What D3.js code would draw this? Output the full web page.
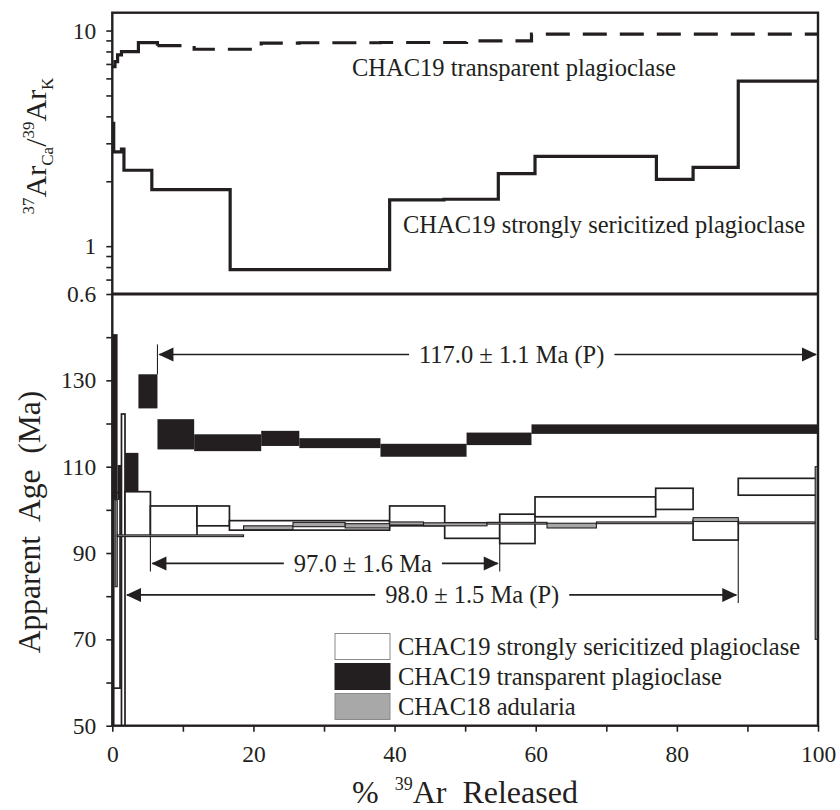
<!DOCTYPE html>
<html>
<head>
<meta charset="utf-8">
<script src="https://cdn.jsdelivr.net/npm/d3@7"></script>
<style>
  html, body { margin: 0; padding: 0; background: #fff; }
  svg { display: block; font-family: "Liberation Serif", "Times New Roman", serif; }
  .pre { white-space: pre; }
</style>
</head>
<body>
<svg id="chart" width="840" height="810"></svg>
<script>
// ---------------- DATA ----------------
// Top panel: 37ArCa/39ArK step spectra (x = cumulative % 39Ar, value = ratio)
const transpCaKX = [0, 0.38, 0.75, 1.3, 3.7, 6.4, 11.6, 21.1, 26.5, 38.0, 50.2, 59.4, 100];
const transpCaKV = [6.8, 7.17, 7.71, 7.99, 8.79, 8.51, 8.19, 8.74, 8.78, 8.8, 8.96, 9.62];
const serCaKX = [0, 0.2, 1.3, 1.65, 5.6, 12.0, 16.7, 39.3, 47.0, 54.7, 59.9, 77.1, 82.3, 88.7, 100];
const serCaKV = [3.71, 2.74, 2.82, 2.25, 1.83, 1.83, 0.778, 1.64, 1.65, 2.17, 2.61, 2.04, 2.32, 5.83];

// Bottom panel: age spectra, each step [x0 %, x1 %, age low Ma, age high Ma]
const sericitizedSteps = [
  [0, 0.2, 20, 105], [0.2, 1.1, 58.7, 104], [1.3, 1.8, 20, 122.2], [1.8, 5.4, 94.0, 104.2],
  [5.4, 12.0, 94.0, 100.9], [12.0, 16.6, 96.3, 100.9], [16.6, 39.3, 95.3, 97.5],
  [39.3, 47.1, 96.3, 100.9], [47.1, 54.9, 93.4, 97.0], [54.9, 59.9, 92.2, 99.0],
  [59.9, 77.0, 98.4, 103.0], [77.0, 82.3, 100.1, 105.0], [82.3, 88.7, 93.0, 97.6],
  [88.7, 100, 103.4, 107.3]
];
const transparentSteps = [
  [0, 0.75, 102.3, 140.7], [0.75, 1.3, 102.3, 110.4], [1.8, 3.7, 104.2, 113.2],
  [3.7, 6.4, 123.5, 131.4], [6.4, 11.6, 114.0, 121.0], [11.6, 21.1, 113.6, 117.5],
  [21.1, 26.5, 114.8, 118.3], [26.5, 38.0, 114.3, 116.6], [38.0, 50.2, 112.3, 115.3],
  [50.2, 59.4, 115.0, 117.9], [59.4, 100, 117.6, 119.8]
];
const adulariaSteps = [
  [0.4, 0.7, 82.2, 102.3], [0.7, 18.6, 93.8, 94.2], [18.6, 25.6, 95.4, 96.3],
  [25.6, 33.0, 96.1, 97.1], [33.0, 39.3, 95.8, 96.8], [39.3, 44.1, 96.5, 97.2],
  [44.1, 53.1, 96.3, 97.0], [53.1, 61.6, 96.7, 97.1], [61.6, 68.6, 95.8, 96.9],
  [68.6, 82.3, 96.8, 97.2], [82.3, 88.7, 97.3, 98.2], [88.7, 99.6, 96.8, 97.2],
  [99.6, 100, 70, 110]
];

// Plateau ages
const plateauLabels = ["117.0 \u00b1 1.1 Ma (P)", "97.0 \u00b1 1.6 Ma", "98.0 \u00b1 1.5 Ma (P)"];
const plateauStart = [6.4, 5.4, 1.8];
const plateauEnd = [100, 54.9, 88.7];

// Axis ticks
const xTicks = [0, 10, 20, 30, 40, 50, 60, 70, 80, 90, 100];
const xTickLabels = [0, 20, 40, 60, 80, 100];
const ageTicks = [50, 60, 70, 80, 90, 100, 110, 120, 130, 140];
const ageTickLabels = [50, 70, 90, 110, 130];
const ratioTicks = [0.6, 0.7, 0.8, 0.9, 1, 2, 3, 4, 5, 6, 7, 8, 9, 10];
const ratioTickLabels = [0.6, 1, 10];

// Legend
const legendLabels = ["CHAC19 strongly sericitized plagioclase", "CHAC19 transparent plagioclase", "CHAC18 adularia"];

// ---------------- LAYOUT ----------------
const L = 112.3, R = 818, T = 12.7, M = 294, B = 725.7;
const INK = "#231f20";
const svg = d3.select("#chart");

const x = d3.scaleLinear().domain([0, 100]).range([L, R]);
const yTop = d3.scaleLog().domain([0.6, 12.1]).range([M, T]);
const yBot = d3.scaleLinear().domain([50, 150]).range([B, M]);

const defs = svg.append("defs");
defs.append("clipPath").attr("id", "clipBot")
  .append("rect").attr("x", L).attr("y", M).attr("width", R - L).attr("height", B - M);
defs.append("clipPath").attr("id", "clipTop")
  .append("rect").attr("x", L).attr("y", T).attr("width", R - L).attr("height", M - T);

// ---------- Top panel lines ----------
const stepLine = d3.line().x(d => x(d[0])).y(d => yTop(d[1])).curve(d3.curveStepAfter);
function stepPts(xs, vs) {
  const pts = vs.map((v, i) => [xs[i], v]);
  pts.push([xs[xs.length - 1], vs[vs.length - 1]]);
  return pts;
}
const transpPts = stepPts(transpCaKX, transpCaKV);
const splitIdx = transpCaKX.indexOf(6.4);
const gTop = svg.append("g").attr("clip-path", "url(#clipTop)");
gTop.append("path").datum(transpPts.slice(0, splitIdx + 1))
  .attr("d", stepLine).attr("fill", "none").attr("stroke", INK).attr("stroke-width", 3.2);
gTop.append("path").datum(transpPts.slice(splitIdx))
  .attr("d", stepLine).attr("fill", "none").attr("stroke", INK).attr("stroke-width", 3.2)
  .attr("stroke-dasharray", "24,13");
gTop.append("path").datum(stepPts(serCaKX, serCaKV))
  .attr("d", stepLine).attr("fill", "none").attr("stroke", INK).attr("stroke-width", 3.2);

svg.append("text").attr("x", 352).attr("y", 76).attr("font-size", 24.5).attr("fill", INK)
  .text("CHAC19 transparent plagioclase");
svg.append("text").attr("x", 403).attr("y", 232.5).attr("font-size", 24.5).attr("fill", INK)
  .text("CHAC19 strongly sericitized plagioclase");

// ---------- Bottom panel boxes ----------
const gBot = svg.append("g").attr("clip-path", "url(#clipBot)");
function boxes(data) {
  return gBot.append("g").selectAll("rect").data(data).join("rect")
    .attr("x", d => x(d[0])).attr("width", d => x(d[1]) - x(d[0]))
    .attr("y", d => yBot(d[3])).attr("height", d => yBot(d[2]) - yBot(d[3]));
}
boxes(sericitizedSteps).attr("fill", "#fff").attr("stroke", INK).attr("stroke-width", 1.7);
boxes(transparentSteps).attr("fill", INK).attr("stroke", "none");
boxes(adulariaSteps).attr("fill", "#a6a6a6").attr("stroke", INK).attr("stroke-width", 1.1);

// ---------- Plateau arrows ----------
const arrowAge = [136.0, 87.6, 80.3];
const textCenter = [56.6, 35.5, 51.0];
const allSteps = [transparentSteps, sericitizedSteps, sericitizedSteps];
const gP = svg.append("g");
function arrowHead(px, py, dir) {
  const len = 15, half = 7;
  return `M${px},${py}L${px - dir * len},${py - half}L${px - dir * len},${py + half}Z`;
}
plateauLabels.forEach((lab, i) => {
  const ay = yBot(arrowAge[i]);
  const x0 = x(plateauStart[i]), x1 = x(plateauEnd[i]);
  const t = gP.append("text").attr("x", x(textCenter[i])).attr("y", ay)
    .attr("dy", "0.34em").attr("text-anchor", "middle").attr("font-size", 24.5).attr("fill", INK).text(lab);
  const bb = t.node().getBBox();
  gP.append("line").attr("x1", x0 + 2).attr("x2", bb.x - 10).attr("y1", ay).attr("y2", ay)
    .attr("stroke", INK).attr("stroke-width", 1.6);
  gP.append("line").attr("x1", bb.x + bb.width + 10).attr("x2", x1 - 2).attr("y1", ay).attr("y2", ay)
    .attr("stroke", INK).attr("stroke-width", 1.6);
  gP.append("path").attr("d", arrowHead(x0 + 1, ay, -1)).attr("fill", INK);
  gP.append("path").attr("d", arrowHead(x1 - 1, ay, 1)).attr("fill", INK);
  [plateauStart[i], plateauEnd[i]].forEach(px => {
    if (px >= 100) return;
    const adj = allSteps[i].filter(s => s[0] === px || s[1] === px);
    if (!adj.length) return;
    const up = arrowAge[i] > 110;
    const edge = up ? d3.max(adj, s => s[3]) : d3.min(adj, s => s[2]);
    if (edge < arrowAge[i] && !up) return; // box already reaches the arrow
    const yEdge = yBot(edge);
    const yEnd = up ? ay - 10 : ay + 8;
    gP.append("line").attr("x1", x(px)).attr("x2", x(px)).attr("y1", yEdge).attr("y2", yEnd)
      .attr("stroke", INK).attr("stroke-width", 1.1);
  });
});

// ---------- Legend ----------
const legFill = ["#fff", INK, "#a8a8a8"];
const legStroke = ["#8a8a8a", INK, "#8a8a8a"];
const legY = [633.5, 663.5, 693.5];
const gL = svg.append("g");
legendLabels.forEach((lab, i) => {
  gL.append("rect").attr("x", 335).attr("y", legY[i]).attr("width", 55).attr("height", 26)
    .attr("fill", legFill[i]).attr("stroke", legStroke[i]).attr("stroke-width", 1);
  gL.append("text").attr("x", 398).attr("y", legY[i] + 13).attr("dy", "0.34em")
    .attr("font-size", 24.5).attr("fill", INK).text(lab);
});

// ---------- Axes ----------
const xAxis = d3.axisBottom(x).tickValues(xTicks)
  .tickFormat(d => xTickLabels.includes(d) ? d : "").tickSize(6).tickPadding(14);
const gx = svg.append("g").attr("transform", `translate(0,${B})`).call(xAxis);
const yAxisB = d3.axisLeft(yBot).tickValues(ageTicks)
  .tickFormat(d => ageTickLabels.includes(d) ? d : "").tickSize(6).tickPadding(10);
const gyb = svg.append("g").attr("transform", `translate(${L},0)`).call(yAxisB);
const yAxisT = d3.axisLeft(yTop).tickValues(ratioTicks)
  .tickFormat(d => ratioTickLabels.includes(d) ? d : "").tickSize(6).tickPadding(10);
const gyt = svg.append("g").attr("transform", `translate(${L},0)`).call(yAxisT);
[gx, gyb, gyt].forEach(g => {
  g.select(".domain").remove();
  g.selectAll(".tick line").attr("stroke", INK).attr("stroke-width", 1.6);
  g.selectAll(".tick text").attr("font-family", "Liberation Serif, serif").attr("font-size", 23.5).attr("fill", INK);
});

// Frame
const frame = svg.append("g").attr("fill", "none").attr("stroke", INK);
frame.append("rect").attr("x", L).attr("y", T).attr("width", R - L).attr("height", B - T).attr("stroke-width", 2.4);
frame.append("line").attr("x1", L).attr("x2", R).attr("y1", M).attr("y2", M).attr("stroke-width", 2.8);

// ---------- Axis titles ----------
const xt = svg.append("text").attr("class", "pre").attr("x", 352).attr("y", 803)
  .attr("font-size", 32).attr("fill", INK);
xt.append("tspan").text("%  ");
xt.append("tspan").attr("font-size", 18).attr("dy", -13).text("39");
xt.append("tspan").attr("dy", 13).text("Ar  Released");

svg.append("text").attr("class", "pre").attr("transform", "translate(40,522) rotate(-90)")
  .attr("text-anchor", "middle").attr("font-size", 31.5).attr("fill", INK)
  .text("Apparent  Age  (Ma)");

const yt = svg.append("text").attr("transform", "translate(46,146) rotate(-90)")
  .attr("text-anchor", "middle").attr("font-size", 30).attr("fill", INK);
yt.append("tspan").attr("font-size", 17).attr("dy", -12).text("37");
yt.append("tspan").attr("dy", 12).text("Ar");
yt.append("tspan").attr("font-size", 17).attr("dy", 7).text("Ca");
yt.append("tspan").attr("dy", -7).text("/");
yt.append("tspan").attr("font-size", 17).attr("dy", -12).text("39");
yt.append("tspan").attr("dy", 12).text("Ar");
yt.append("tspan").attr("font-size", 17).attr("dy", 7).text("K");
</script>
</body>
</html>
